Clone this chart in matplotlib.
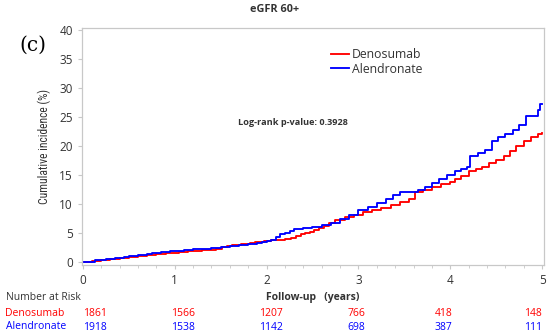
import numpy as np
import matplotlib
matplotlib.use('Agg')
import matplotlib.pyplot as plt
from matplotlib.ticker import MultipleLocator
from matplotlib import font_manager as fm

plt.rcParams['font.family'] = ['Open Sans', 'DejaVu Sans']

## data
deno_t = [0, 0.05, 0.1, 0.15, 0.2, 0.25, 0.3, 0.35, 0.4, 0.45,
          0.5, 0.55, 0.6, 0.65, 0.7, 0.75, 0.8, 0.85, 0.9, 0.95,
          1.0, 1.05, 1.1, 1.15, 1.2, 1.25, 1.3, 1.35, 1.4, 1.45,
          1.52, 1.57, 1.62, 1.67, 1.72, 1.77, 1.82, 1.87, 1.92, 1.97,
          2.05, 2.12, 2.2, 2.27, 2.32, 2.37, 2.42, 2.47, 2.52, 2.57,
          2.62, 2.68, 2.75, 2.85, 2.95, 3.05, 3.15, 3.25, 3.35, 3.45,
          3.55, 3.62, 3.7, 3.8, 3.9, 4.0, 4.05, 4.12, 4.2, 4.28,
          4.35, 4.42, 4.5, 4.58, 4.65, 4.72, 4.8, 4.88, 4.95, 5.0]
deno_v = [0, 0.05, 0.15, 0.25, 0.35, 0.45, 0.5, 0.6, 0.7, 0.75,
          0.85, 0.95, 1.0, 1.1, 1.2, 1.3, 1.35, 1.45, 1.5, 1.6,
          1.65, 1.7, 1.8, 1.85, 1.9, 2.0, 2.05, 2.1, 2.15, 2.2,
          2.6, 2.8, 2.9, 3.0, 3.1, 3.2, 3.35, 3.45, 3.55, 3.7,
          3.8, 3.85, 3.95, 4.1, 4.5, 4.8, 5.0, 5.2, 5.5, 5.8,
          6.3, 6.8, 7.3, 7.7, 8.2, 8.6, 9.0, 9.4, 9.8, 10.3,
          10.8, 12.0, 12.4, 12.9, 13.4, 13.8, 14.3, 14.8, 15.6, 16.0,
          16.4, 17.0, 17.6, 18.3, 19.2, 20.0, 20.8, 21.5, 22.0, 22.3]

alen_t = [0, 0.1, 0.13, 0.2, 0.25, 0.3, 0.35, 0.4, 0.45, 0.5,
          0.55, 0.6, 0.65, 0.7, 0.75, 0.8, 0.85, 0.9, 0.95, 1.0,
          1.05, 1.1, 1.15, 1.2, 1.25, 1.3, 1.35, 1.4, 1.45, 1.5,
          1.55, 1.6, 1.65, 1.7, 1.75, 1.8, 1.85, 1.9, 1.95, 2.0,
          2.05, 2.1, 2.15, 2.2, 2.25, 2.3, 2.4, 2.5, 2.6, 2.7,
          2.8, 2.9, 3.0, 3.1, 3.2, 3.3, 3.38, 3.45, 3.65, 3.72,
          3.8, 3.88, 3.96, 4.05, 4.12, 4.18, 4.22, 4.3, 4.38, 4.45,
          4.52, 4.6, 4.68, 4.75, 4.82, 4.95, 4.98, 5.0]
alen_v = [0, 0.05, 0.3, 0.4, 0.5, 0.6, 0.7, 0.8, 0.9, 1.0,
          1.1, 1.2, 1.3, 1.4, 1.5, 1.6, 1.7, 1.75, 1.85, 1.9,
          2.0, 2.05, 2.1, 2.2, 2.25, 2.3, 2.35, 2.4, 2.5, 2.6,
          2.65, 2.7, 2.8, 2.9, 3.0, 3.1, 3.2, 3.35, 3.5, 3.6,
          3.9, 4.3, 4.8, 5.1, 5.4, 5.7, 5.9, 6.1, 6.4, 6.8,
          7.5, 8.2, 8.9, 9.5, 10.1, 10.8, 11.5, 12.1, 12.4, 13.0,
          13.6, 14.3, 15.0, 15.6, 16.1, 16.3, 18.2, 18.7, 19.3, 20.8,
          21.6, 22.0, 22.8, 23.6, 25.2, 26.2, 27.2, 27.2]

risk_labels = ['Denosumab', 'Alendronate']
deno_risk = [1861, 1566, 1207, 766, 418, 148]
alen_risk = [1918, 1538, 1142, 698, 387, 111]
risk_pos = [0.13, 1.09, 2.05, 2.98, 3.93, 4.90]

red = '#ff0000'
blue = '#0000ff'
grey = '#c8c8c8'
txt = '#333333'

installed = {f.name for f in fm.fontManager.ttflist}
narrow = [f for f in ['Liberation Sans Narrow', 'DejaVu Sans Condensed',
                      'Roboto Condensed', 'Open Sans Condensed'] if f in installed]
narrow = narrow + ['DejaVu Sans']

fig = plt.figure(figsize=(5.5, 3.36), dpi=100)
ax = fig.add_axes([0.149, 0.211, 0.840, 0.706])

ax.step(deno_t, deno_v, where='post', color=red, lw=1.35, label='Denosumab')
ax.step(alen_t, alen_v, where='post', color=blue, lw=1.35, label='Alendronate')

ax.set_xlim(-0.01, 5.02)
ax.set_ylim(-0.5, 40.3)
ax.xaxis.set_major_locator(MultipleLocator(1))
ax.xaxis.set_minor_locator(MultipleLocator(0.2))
ax.yaxis.set_major_locator(MultipleLocator(5))
for s in ax.spines.values():
    s.set_color(grey)
    s.set_linewidth(0.9)
ax.tick_params(which='both', direction='out', color=grey, labelcolor=txt,
               labelsize=8.5)
ax.tick_params(which='major', length=3)
ax.tick_params(which='minor', length=2)

ax.set_ylabel('Cumulative incidence (%)', family=narrow,
              fontsize=8.4, color=txt, labelpad=6)

leg = ax.legend(loc='upper left', bbox_to_anchor=(0.52, 0.95), frameon=False,
                fontsize=8.8, handlelength=1.5, handletextpad=0.25,
                labelspacing=0.12, labelcolor=txt, borderpad=0.2)

ax.text(0.338, 0.60, 'Log-rank p-value: 0.3928', transform=ax.transAxes,
        fontsize=6.6, fontweight='bold', color=txt, va='center')

fig.text(0.5, 0.972, 'eGFR 60+', ha='center', va='center', fontsize=7.8,
         fontweight='bold', color=txt)
fig.text(0.06, 0.866, '(c)', ha='center', va='center', fontsize=14.5,
         family=['DejaVu Serif'], color='black')

# number at risk table
fig.text(0.01, 0.116, 'Number at Risk', ha='left', va='center', fontsize=7.5,
         color=txt)
trans = ax.get_xaxis_transform()
ax.text(2.5, -0.135, 'Follow-up   (years)', transform=trans,
        ha='center', va='center', fontsize=7.5, fontweight='bold', color=txt)
fig.text(0.01, 0.068, risk_labels[0], ha='left', va='center', fontsize=7.5,
         color=red)
fig.text(0.01, 0.027, risk_labels[1], ha='left', va='center', fontsize=7.5,
         color=blue)
for x, d, a in zip(risk_pos, deno_risk, alen_risk):
    ax.text(x, -0.203, str(d), transform=trans, ha='center', va='center',
            fontsize=7.5, color=red, clip_on=False)
    ax.text(x, -0.262, str(a), transform=trans, ha='center', va='center',
            fontsize=7.5, color=blue, clip_on=False)

fig.savefig('out.png', dpi=100)
